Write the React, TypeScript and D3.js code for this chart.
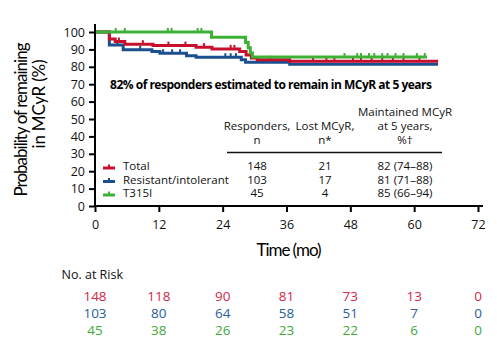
import React, { useEffect, useRef } from 'react';
import * as d3 from 'd3';

// KM steps: [month, % remaining]
const totalSteps: [number, number][] = [
  [0, 100], [2.7, 96], [3.8, 94.5], [5.6, 93], [10.9, 92.2], [19, 91.3], [22, 90.3],
  [27.2, 88.8], [28.4, 86.8], [29.4, 85], [30.5, 84], [36.6, 83.2], [64.5, 83.2],
];
const resistantSteps: [number, number][] = [
  [0, 100], [2.7, 92.5], [5.3, 89.8], [10.7, 88.8], [12.2, 87.8], [17.2, 86.3], [19, 85.5],
  [27.5, 84], [28.3, 82.6], [36.6, 81.4], [64.5, 81.4],
];
const t315iSteps: [number, number][] = [
  [0, 100], [21.9, 97], [28.3, 94], [28.8, 91], [29.2, 88], [29.6, 85.6], [62.4, 85.6],
];
const totalCensor = [4.5, 9, 13.8, 17, 20.5, 25.5, 26.2, 33, 41, 43.5, 45, 48.5, 50, 52, 54, 56, 58, 61];
const resistantCensor = [4.2, 8.5, 12.8, 14.5, 16, 24.5, 25.5, 26.5];
const t315iCensor = [3.9, 5.6, 13.7, 14.4, 19.3, 20, 46.9, 49.3, 50, 51.5, 52.5, 54, 55, 56.5, 58, 60.5, 62];

const seriesNames = ['Total', 'Resistant/intolerant', 'T315I'];
const seriesColors = ['#c8102e', '#1b4f8d', '#3db135'];
const riskColors = ['#d0284a', '#2a5d99', '#3faa3a'];
const responders = ['148', '103', '45'];
const lostMcyr = ['21', '17', '4'];
const maintained = ['82 (74–88)', '81 (71–88)', '85 (66–94)'];
const riskTimes = [0, 12, 24, 36, 48, 60, 72];
const atRisk = [
  [148, 118, 90, 81, 73, 13, 0],
  [103, 80, 64, 58, 51, 7, 0],
  [45, 38, 26, 23, 22, 6, 0],
];
const xTicks = [0, 12, 24, 36, 48, 60, 72];
const yTicks = [0, 10, 20, 30, 40, 50, 60, 70, 80, 90, 100];

const App = () => {
  const ref = useRef<SVGSVGElement>(null);

  useEffect(() => {
    const svg = d3.select(ref.current);
    svg.selectAll('*').remove();
    const font = '"Open Sans", Lato, sans-serif';
    const condensed = 'Lato, "Open Sans", sans-serif';

    const x = d3.scaleLinear().domain([0, 72]).range([95, 478]);
    const y = d3.scaleLinear().domain([0, 100]).range([206, 32]);

    // curves
    const steps = [totalSteps, resistantSteps, t315iSteps];
    const censors = [totalCensor, resistantCensor, t315iCensor];
    const line = d3.line<[number, number]>()
      .x(d => x(d[0]))
      .y(d => y(d[1]))
      .curve(d3.curveStepAfter);

    const valueAt = (s: [number, number][], t: number) => {
      let v = s[0][1];
      for (const p of s) if (p[0] <= t) v = p[1];
      return v;
    };

    [1, 0, 2].forEach(i => {
      svg.append('path')
        .attr('d', line(steps[i]))
        .attr('fill', 'none')
        .attr('stroke', seriesColors[i])
        .attr('stroke-width', 3);
      svg.append('g').selectAll('line')
        .data(censors[i])
        .enter().append('line')
        .attr('x1', d => x(d)).attr('x2', d => x(d))
        .attr('y1', d => y(valueAt(steps[i], d)) - 4)
        .attr('y2', d => y(valueAt(steps[i], d)))
        .attr('stroke', seriesColors[i])
        .attr('stroke-width', 2);
    });

    // axes
    const yAxis = svg.append('g')
      .attr('transform', `translate(${x(0)},0)`)
      .call(d3.axisLeft(y).tickValues(yTicks).tickSize(6).tickSizeOuter(0).tickPadding(4));
    yAxis.select('.domain').attr('d', `M0,24V${y(0)}`).attr('stroke-width', 2);
    yAxis.selectAll('.tick line').attr('stroke-width', 2);
    yAxis.selectAll('text').attr('font-size', 12.5).attr('font-family', font).attr('fill', '#111');

    const xAxis = svg.append('g')
      .attr('transform', `translate(0,${y(0)})`)
      .call(d3.axisBottom(x).tickValues(xTicks).tickSize(6).tickSizeOuter(0).tickPadding(8));
    xAxis.select('.domain').attr('d', `M${x(0)},0H483`).attr('stroke-width', 2);
    xAxis.selectAll('.tick line').attr('stroke-width', 2);
    xAxis.selectAll('text').attr('font-size', 12.5).attr('font-family', font).attr('fill', '#111');

    svg.append('text')
      .attr('x', 289).attr('y', 256)
      .attr('text-anchor', 'middle')
      .attr('font-family', condensed).attr('font-size', 17)
      .attr('textLength', 65)
      .text('Time (mo)');

    svg.append('text')
      .attr('transform', 'translate(27,119.5) rotate(-90)')
      .attr('text-anchor', 'middle').attr('font-family', condensed).attr('font-size', 17)
      .attr('textLength', 154)
      .text('Probability of remaining');
    svg.append('text')
      .attr('transform', 'translate(45,104) rotate(-90)')
      .attr('text-anchor', 'middle').attr('font-family', condensed).attr('font-size', 17)
      .attr('textLength', 89)
      .text('in MCyR (%)');

    // inset table
    svg.append('text')
      .attr('x', 271).attr('y', 89)
      .attr('text-anchor', 'middle')
      .attr('font-family', font).attr('font-size', 12).attr('font-weight', 'bold')
      .attr('textLength', 322)
      .text('82% of responders estimated to remain in MCyR at 5 years');

    const tfont = (s: d3.Selection<SVGTextElement, unknown, null, undefined>) =>
      s.attr('font-family', font).attr('font-size', 11.5).attr('fill', '#111').attr('text-anchor', 'middle');

    const cols = [257, 325, 405];
    const headers = [
      [['Responders,', 130], ['n', 143.5]],
      [['Lost MCyR,', 130], ['n*', 143.5]],
      [['Maintained MCyR', 115.5], ['at 5 years,', 130], ['%†', 143.5]],
    ];
    headers.forEach((h, i) => {
      h.forEach(([t, yy]) => {
        svg.append('text').attr('x', cols[i]).attr('y', yy as number).call(tfont).text(t as string);
      });
    });
    svg.append('line')
      .attr('x1', 227).attr('x2', 442).attr('y1', 152.5).attr('y2', 152.5)
      .attr('stroke', '#111').attr('stroke-width', 1.5);

    const rowY = [170, 183.5, 197];
    seriesNames.forEach((name, i) => {
      const g = svg.append('g');
      g.append('line')
        .attr('x1', 103).attr('x2', 115).attr('y1', rowY[i] - 2).attr('y2', rowY[i] - 2)
        .attr('stroke', seriesColors[i]).attr('stroke-width', 3);
      g.append('line')
        .attr('x1', 109).attr('x2', 109).attr('y1', rowY[i] - 5.5).attr('y2', rowY[i] - 2)
        .attr('stroke', seriesColors[i]).attr('stroke-width', 2);
      g.append('text').attr('x', 123).attr('y', rowY[i]).call(tfont).attr('text-anchor', 'start').text(name);
      g.append('text').attr('x', cols[0]).attr('y', rowY[i]).call(tfont).text(responders[i]);
      g.append('text').attr('x', cols[1]).attr('y', rowY[i]).call(tfont).text(lostMcyr[i]);
      g.append('text').attr('x', cols[2]).attr('y', rowY[i]).call(tfont).text(maintained[i]);
    });

    // number at risk
    svg.append('text')
      .attr('x', 61.5).attr('y', 279)
      .attr('font-family', font).attr('font-size', 12.5).attr('fill', '#111')
      .text('No. at Risk');
    const riskY = [300.5, 317.5, 334.5];
    atRisk.forEach((row, i) => {
      svg.append('g').selectAll('text')
        .data(row)
        .enter().append('text')
        .attr('x', (d, j) => x(riskTimes[j]))
        .attr('y', riskY[i])
        .attr('text-anchor', 'middle')
        .attr('font-family', font).attr('font-size', 13.5)
        .attr('fill', riskColors[i])
        .text(d => d);
    });
  }, []);

  return <svg ref={ref} width={497} height={351} style={{ position: 'absolute', left: 0, top: 0, background: '#fff' }} />;
};

export default App;
